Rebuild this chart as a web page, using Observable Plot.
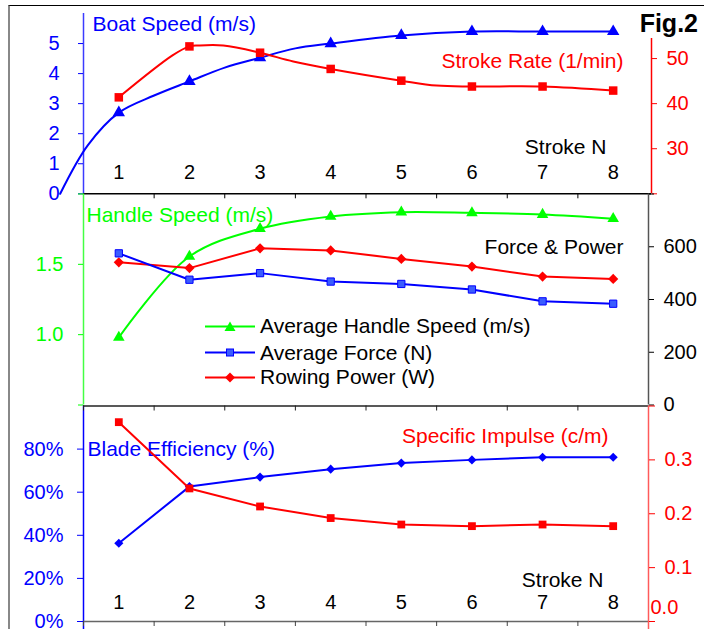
<!DOCTYPE html>
<html><head><meta charset="utf-8">
<script src="https://cdn.jsdelivr.net/npm/d3@7"></script>
<script src="https://cdn.jsdelivr.net/npm/@observablehq/plot@0.6"></script>
<style>
body{margin:0;background:#fff;}
#chart{position:relative;width:710px;height:629px;overflow:hidden;background:#fff;font-family:"Liberation Sans",Arial,sans-serif;}
#chart svg{position:absolute;left:0;top:0;overflow:visible;}
.abs{position:absolute;white-space:nowrap;}
</style></head><body><div id="chart"></div>
<script>
// ---- data ----
const strokes = [1, 2, 3, 4, 5, 6, 7, 8];
const strokeBounds = [0.5, 1.5, 2.5, 3.5, 4.5, 5.5, 6.5, 7.5, 8.5];

// top panel
const boatSpeed = [2.7, 3.74, 4.53, 5.0, 5.27, 5.4, 5.4, 5.4];
const boatSpeedCurveX = [0.17, 0.56, 1, 1.5, 2, 2.5, 3, 3.5, 4, 5, 6, 7, 8];
const boatSpeedCurve = [0, 1.61, 2.7, 3.27, 3.74, 4.2, 4.53, 4.84, 5.0, 5.27, 5.4, 5.4, 5.4];
const strokeRate = [41.4, 52.7, 51.3, 47.7, 45.1, 43.8, 43.8, 42.9];
const strokeRateCurveX = [1, 1.76, 2, 2.13, 2.48, 3, 3.47, 4, 5, 5.5, 6, 7, 8];
const strokeRateCurve = [41.4, 50.7, 52.7, 52.9, 52.9, 51.3, 49.35, 47.7, 45.1, 44.0, 43.8, 43.8, 42.9];

// middle panel
const handleSpeed = [0.98, 1.556, 1.753, 1.84, 1.871, 1.866, 1.854, 1.824];
const avgForce = [575, 475, 500, 468, 459, 438, 393, 384];
const rowingPower = [541, 519, 594, 586, 554, 525, 487, 478];

// bottom panel
const bladeEfficiency = [0.363, 0.626, 0.67, 0.707, 0.735, 0.75, 0.762, 0.762];
const specificImpulse = [0.37, 0.247, 0.2135, 0.192, 0.18, 0.177, 0.18, 0.177];

// tick labels
const speedTicks = [0, 1, 2, 3, 4, 5];
const rateTicks = [20, 30, 40, 50];
const handleTicks = [0.5, 1.0, 1.5, 2.0];
const forceTicks = [0, 200, 400, 600, 800];
const effTicks = [0, 0.2, 0.4, 0.6, 0.8];
const impulseTicks = [0, 0.1, 0.2, 0.3, 0.4];

const legendItems = ["Average Handle Speed (m/s)", "Average Force (N)", "Rowing Power (W)"];

// ---- colours ----
const BLUE = "#0000ff", RED = "#ff0000", GREEN = "#00ff00";

const W = 710, H = 629;
const style = {fontFamily: '"Liberation Sans", Arial, sans-serif', fontSize: "20px", background: "transparent", overflow: "visible"};
const chart = document.getElementById("chart");

function panel(o) {
  const p = Plot.plot({
    width: W, height: H,
    marginLeft: 83, marginRight: o.mr ?? 62,
    marginTop: o.top, marginBottom: o.mb ?? (H - o.bottom),
    x: {domain: [0.5, 8.5], axis: null},
    y: {domain: o.y, range: o.range, axis: null},
    style,
    marks: o.marks
  });
  chart.appendChild(p);
}
const lbl = (t, o) => Plot.text([t], {text: d => d, fontSize: 21, lineAnchor: "middle", ...o});

// ===== Panel 1 : Boat speed (left) =====
panel({top: 13, bottom: 193.3, y: [0, 6], marks: [
  Plot.ruleX([0.5], {stroke: "#3b3bff", strokeWidth: 1.5}),
  Plot.axisY({ticks: speedTicks, anchor: "left", tickSize: 5, tickPadding: 19, color: BLUE, fontSize: 20, label: null,
    tickFormat: d => String(d)}),
  Plot.tickX(strokeBounds, {x: d => d, stroke: "#000", insetTop: 180.3, insetBottom: -5}),
  Plot.text(strokes, {x: d => d, text: d => String(d), frameAnchor: "bottom", dy: -15, fontSize: 20, fill: "#000"}),
  Plot.line(boatSpeedCurve, {x: boatSpeedCurveX, y: boatSpeedCurve, stroke: BLUE, strokeWidth: 2, curve: "catmull-rom"}),
  Plot.dot(strokes, {x: strokes, y: boatSpeed, symbol: "triangle", fill: BLUE, r: 4.6}),
  lbl("Boat Speed (m/s)", {frameAnchor: "top-left", textAnchor: "start", dx: 9, dy: 11, fill: BLUE}),
  lbl("Stroke N", {frameAnchor: "bottom-right", textAnchor: "end", dx: -42, dy: -47, fill: "#000"})
]});

// ===== Panel 1 : Stroke rate (right) =====
panel({top: 13, bottom: 193.3, y: [20, 60], marks: [
  Plot.line(strokeRateCurve, {x: strokeRateCurveX, y: strokeRateCurve, stroke: RED, strokeWidth: 2, curve: "catmull-rom"}),
  Plot.dot(strokes, {x: strokes, y: strokeRate, symbol: "square", fill: RED, r: 4.8}),
  lbl("Stroke Rate (1/min)", {frameAnchor: "top-right", textAnchor: "end", dx: -25, dy: 48, fill: RED})
]});
panel({top: 13, bottom: 193.3, y: [20, 60], mr: 59, marks: [
  Plot.ruleY([20], {stroke: "#000", strokeWidth: 1.5}),
  Plot.ruleX([8.5], {stroke: RED, strokeWidth: 1.5}),
  Plot.axisY({ticks: rateTicks, anchor: "right", tickSize: 5, tickPadding: 10, color: RED, fontSize: 20, label: null,
    tickFormat: d => d === 20 ? "" : String(d)})
]});

// ===== Panel 2 : Handle speed (left) =====
panel({top: 193.5, bottom: 404.5, y: [0.5, 2.0], marks: [
  Plot.ruleX([0.5], {stroke: "#44ff44", strokeWidth: 1.5}),
  Plot.axisY({ticks: handleTicks, anchor: "left", tickSize: 5, tickPadding: 15, color: GREEN, fontSize: 20, label: null,
    tickFormat: d => (d === 1 || d === 1.5) ? d.toFixed(1) : ""}),
  Plot.line(strokes, {x: strokes, y: handleSpeed, stroke: GREEN, strokeWidth: 2, curve: "catmull-rom"}),
  Plot.dot(strokes, {x: strokes, y: handleSpeed, symbol: "triangle", fill: GREEN, r: 4.3}),
  lbl("Handle Speed (m/s)", {frameAnchor: "top-left", textAnchor: "start", dx: 3, dy: 21.5, fill: GREEN})
]});

// ===== Panel 2 : Force & power (right) =====
panel({top: 193.5, bottom: 404.5, y: [0, 800], marks: [
  Plot.ruleX([8.5], {stroke: "#555", strokeWidth: 1.5}),
  Plot.axisY({ticks: forceTicks, anchor: "right", tickSize: 5, tickPadding: 10, color: "#000", fontSize: 20, label: null,
    tickFormat: d => d === 800 ? "" : String(d)}),
  Plot.line(strokes, {x: strokes, y: rowingPower, stroke: RED, strokeWidth: 2}),
  Plot.dot(strokes, {x: strokes, y: rowingPower, symbol: "diamond2", fill: RED, r: 4.6}),
  Plot.line(strokes, {x: strokes, y: avgForce, stroke: BLUE, strokeWidth: 2}),
  Plot.dot(strokes, {x: strokes, y: avgForce, symbol: "square", fill: "#3a5cff", stroke: BLUE, strokeWidth: 1, r: 4.1}),
  lbl("Force & Power", {frameAnchor: "top-right", textAnchor: "end", dx: -25, dy: 53, fill: "#000"})
]});

// ===== Panel 3 : Blade efficiency (left) =====
panel({top: 405.5, mb: 0, y: [0, 1], range: [621, 405.5], marks: [
  Plot.ruleX([0.5], {stroke: BLUE, strokeWidth: 1.5}),
  Plot.ruleY([1], {stroke: "#222", strokeWidth: 1.5}),
  Plot.ruleY([0], {stroke: "#666", strokeWidth: 1.5}),
  Plot.tickX(strokeBounds, {x: d => d, stroke: "#222", insetBottom: 218.5}),
  Plot.tickX(strokeBounds, {x: d => d, stroke: "#444", insetTop: 215.5, insetBottom: 3}),
  Plot.axisY({ticks: effTicks, anchor: "left", tickSize: 6, tickPadding: 14, color: BLUE, fontSize: 20, label: null,
    tickFormat: d3.format(".0%")}),
  Plot.text(strokes, {x: d => d, text: d => String(d), frameAnchor: "bottom", dy: -21, fontSize: 20, fill: "#000"}),
  Plot.line(strokes, {x: strokes, y: bladeEfficiency, stroke: BLUE, strokeWidth: 2}),
  Plot.dot(strokes, {x: strokes, y: bladeEfficiency, symbol: "diamond2", fill: BLUE, r: 4.1}),
  lbl("Blade Efficiency (%)", {frameAnchor: "top-left", textAnchor: "start", dx: 4, dy: 43, fill: BLUE}),
  lbl("Stroke N", {frameAnchor: "bottom-right", textAnchor: "end", dx: -45, dy: -49, fill: "#000"})
]});

// ===== Panel 3 : Specific impulse (right) =====
panel({top: 405.5, mb: 0, y: [0, 0.4], range: [621, 405.5], marks: [
  Plot.ruleX([8.5], {stroke: "#ff5a5a", strokeWidth: 1.5}),
  Plot.axisY({ticks: impulseTicks, anchor: "right", tickSize: 6, tickPadding: 10, color: RED, fontSize: 20, label: null,
    tickFormat: d => (d > 0 && d < 0.35) ? d.toFixed(1) : ""}),
  Plot.text([0], {y: d => d, text: () => "0.0", frameAnchor: "right", textAnchor: "start", dx: 2, dy: -14, fontSize: 20, fill: RED}),
  Plot.line(strokes, {x: strokes, y: specificImpulse, stroke: RED, strokeWidth: 2}),
  Plot.dot(strokes, {x: strokes, y: specificImpulse, symbol: "square", fill: RED, r: 4.4}),
  lbl("Specific Impulse (c/m)", {frameAnchor: "top-right", textAnchor: "end", dx: -40, dy: 30.5, fill: RED})
]});

// ---- outer frame ----
const fr = document.createElement("div");
fr.className = "abs";
fr.style.cssText = "left:8px;top:5px;width:694px;height:640px;border-top:1.5px solid #000;border-left:2px solid #888;pointer-events:none;";
chart.appendChild(fr);

// ---- Fig.2 label ----
const fig = document.createElement("div");
fig.className = "abs";
fig.style.cssText = "left:628px;top:8px;width:70px;height:30px;line-height:30px;text-align:right;background:#fff;font-weight:bold;font-size:25px;color:#000;";
fig.textContent = "Fig.2";
chart.appendChild(fig);

// ---- legend (middle panel) ----
const legendColors = [GREEN, BLUE, RED];
const legendShapes = [
  '<polygon points="25,4.5 30.5,14 19.5,14" />',
  '<rect x="21.5" y="6" width="7" height="7" stroke="#0000ff" stroke-width="1" />',
  '<polygon points="25,4.5 30,9.5 25,14.5 20,9.5" />'
];
const legendY = [326, 352.7, 377.3];
legendItems.forEach((t, i) => {
  const row = document.createElement("div");
  row.className = "abs";
  row.style.cssText = `left:205px;top:${legendY[i] - 12}px;height:24px;line-height:24px;font-size:21px;color:#000;`;
  const fill = i === 1 ? "#3a5cff" : legendColors[i];
  row.innerHTML = `<svg width="50" height="19" style="position:absolute;left:0;top:2.5px;overflow:visible">
    <line x1="0" x2="50" y1="9.5" y2="9.5" stroke="${legendColors[i]}" stroke-width="2"/>
    <g fill="${fill}">${legendShapes[i]}</g></svg><span style="position:absolute;left:55px;top:0">${t}</span>`;
  chart.appendChild(row);
});
</script>
</body></html>
